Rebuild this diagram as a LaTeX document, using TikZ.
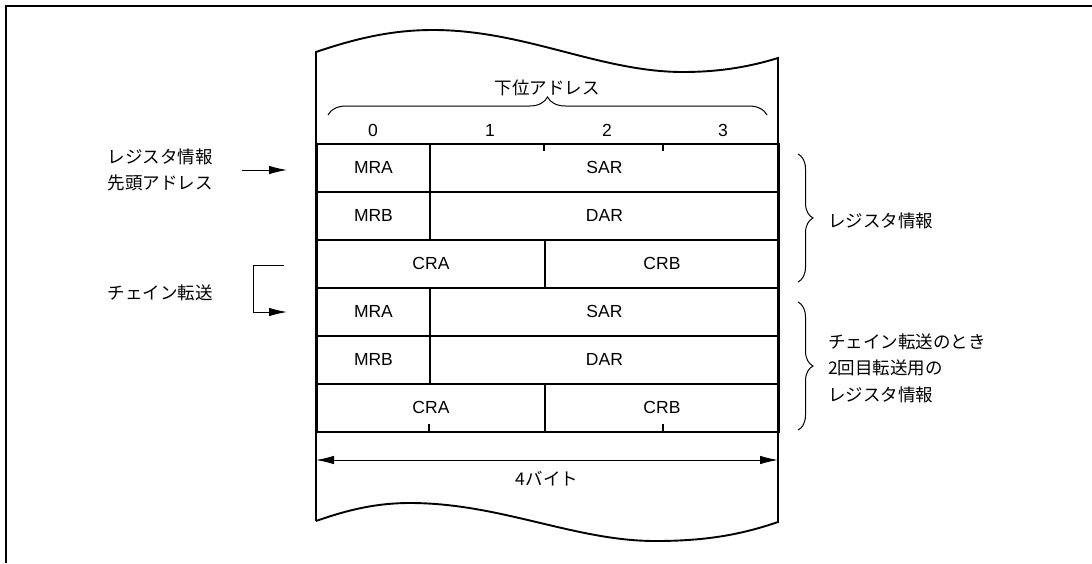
\documentclass[tikz,border=0pt]{standalone}
\usepackage{fontspec}
\setmainfont{Liberation Sans}
\newfontfamily\jp{Noto Sans CJK JP}
\usetikzlibrary{arrows.meta,decorations.pathreplacing}
\begin{document}
\begin{tikzpicture}[x=1pt,y=-1pt,
  every node/.style={font=\fontsize{17.5}{20}\selectfont, inner sep=0pt},
  jptext/.style={font=\fontsize{17.5}{26.5}\selectfont\jp, align=left},
  cell/.style={draw, line width=1.9pt, minimum height=48pt, anchor=north west},
  bodyline/.style={line width=1.9pt},
  frameline/.style={line width=2.2pt},
  tip/.style={Latex[length=18pt,width=8.5pt]},
  arr/.style={line width=1pt, -{Latex[length=18pt,width=8.5pt]}},
  brc/.style={line width=1pt, decorate, decoration={brace, amplitude=#1}}]
\useasboundingbox (0,0) rectangle (1092,563);
% outer frame (top and left only)
\draw[frameline] (6,563) -- (6,6) -- (1092,6);
% body with wavy ends
\coordinate (bl) at (316,521);
\coordinate (tl) at (316,52);
\coordinate (tr) at (778,58);
\coordinate (br) at (778,522);
\draw[bodyline] (bl) -- (tl)
  .. controls (360,37) and (395,30) .. (433,30)
  .. controls (525,30) and (600,72) .. (683,72)
  .. controls (722,72) and (752,66) .. (tr)
  -- (br)
  .. controls (740,535) and (705,541) .. (655,541)
  .. controls (575,541) and (500,503) .. (410,503)
  .. controls (378,503) and (350,509) .. (bl);
% address header
\node[jptext] (addr) at (547,88) {下位アドレス};
\draw[brc=18pt] (328,115) -- (767,115);
\node (d0) at (373,130) {0};
\node (d1) at (490,130) {1};
\node (d2) at (607,130) {2};
\node (d3) at (723,130) {3};
% table rows
\node[cell, minimum width=113pt] (mra1) at (316,143) {MRA};
\node[cell, minimum width=349pt] (sar1) at (429,143) {SAR};
\node[cell, minimum width=113pt] (mrb1) at (316,191) {MRB};
\node[cell, minimum width=349pt] (dar1) at (429,191) {DAR};
\node[cell, minimum width=228pt] (cra1) at (316,239) {CRA};
\node[cell, minimum width=234pt] (crb1) at (544,239) {CRB};
\node[cell, minimum width=113pt] (mra2) at (316,287) {MRA};
\node[cell, minimum width=349pt] (sar2) at (429,287) {SAR};
\node[cell, minimum width=113pt] (mrb2) at (316,335) {MRB};
\node[cell, minimum width=349pt] (dar2) at (429,335) {DAR};
\node[cell, minimum width=228pt] (cra2) at (316,383) {CRA};
\node[cell, minimum width=234pt] (crb2) at (544,383) {CRB};
% ticks
\draw[bodyline] (544,143) -- (544,151);
\draw[bodyline] (663,143) -- (663,151);
\draw[bodyline] (429,431) -- (429,424);
\draw[bodyline] (663,431) -- (663,424);
% width arrow
\coordinate (wl) at (316,460);
\coordinate (wr) at (778,460);
\draw[line width=1pt, {Latex[length=18pt,width=8.5pt]}-{Latex[length=18pt,width=8.5pt]}] (wl) -- (wr);
\node[jptext] (bytes) at (547,479) {4バイト};
% left labels
\node[jptext] (head) at (160,170) {レジスタ情報\\先頭アドレス};
\coordinate (ha) at (242,170);
\coordinate (hb) at (287,170);
\draw[arr] (ha) -- (hb);
\node[jptext] (chain) at (160,293) {チェイン転送};
\coordinate (ca) at (284,265);
\coordinate (cb) at (287,312);
\draw[arr] (ca) -- (253,265) -- (253,312) -- (cb);
% right braces
\draw[brc=15pt] (798,154) -- (798,282);
\node[jptext, anchor=west] (reg1) at (828,221) {レジスタ情報};
\draw[brc=15pt] (798,302) -- (798,430);
\node[jptext, anchor=west] (reg2) at (828,368) {チェイン転送のとき\\2回目転送用の\\レジスタ情報};
\end{tikzpicture}
\end{document}
